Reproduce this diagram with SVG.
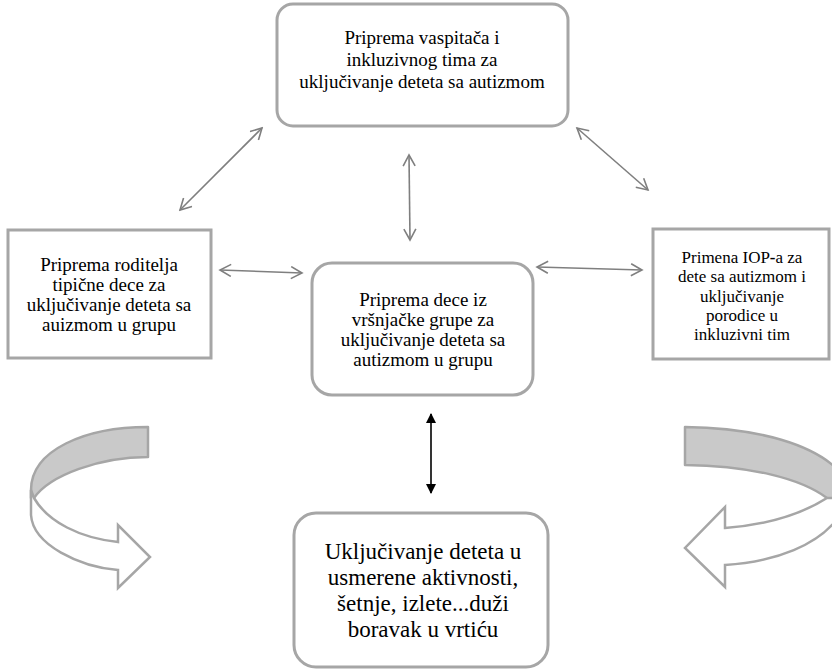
<svg xmlns="http://www.w3.org/2000/svg" width="832" height="671" viewBox="0 0 832 671">
<defs>
<style>
.box{fill:#fff;stroke:#a6a6a6;stroke-width:3}
.t{font-family:"Liberation Serif","Times New Roman",serif;fill:#000;text-anchor:middle}
.con{stroke:#7f7f7f;stroke-width:1.6;fill:none;marker-start:url(#open);marker-end:url(#open)}
.blk{stroke:#000;stroke-width:1.6;fill:none;marker-start:url(#solid);marker-end:url(#solid)}
.band{fill:#c9c9c9;stroke:#a6a6a6;stroke-width:2.5;stroke-linejoin:round}
.front{fill:#fff;stroke:#a6a6a6;stroke-width:2.5;stroke-linejoin:miter}
</style>
<marker id="open" viewBox="0 0 14 14" markerWidth="14" markerHeight="14" refX="12" refY="7" orient="auto-start-reverse" markerUnits="userSpaceOnUse">
<path d="M1,1 L12,7 L1,13" fill="none" stroke="#7f7f7f" stroke-width="1.6"/>
</marker>
<marker id="solid" viewBox="0 0 10 10" markerWidth="10" markerHeight="10" refX="9" refY="5" orient="auto-start-reverse" markerUnits="userSpaceOnUse">
<path d="M0,0 L10,5 L0,10 Z" fill="#000"/>
</marker>
</defs>
<rect width="832" height="671" fill="#fff"/>

<g id="connectors">
<line class="con" x1="262" y1="128" x2="180" y2="210"/>
<line class="con" x1="409" y1="155" x2="410" y2="240"/>
<line class="con" x1="577" y1="128" x2="648" y2="190"/>
<line class="con" x1="220" y1="270" x2="302" y2="273"/>
<line class="con" x1="537" y1="267" x2="642" y2="270"/>
<line class="blk" x1="431" y1="414" x2="431" y2="493"/>
</g>

<g id="curved-left">
<path class="band" d="M148,427 C85,427 31,450 31,490 L31,498 L34,498 C50,475 100,457 148,457 Z"/>
<path class="front" d="M31,490 L31,515 C33,545 80,567 118,570 L118,588 L150,557 L118,525 L118,542 C80,538 48,522 34,498 Z"/>
</g>
<g id="curved-right">
<path class="band" d="M685,427 C760,428 815,445 840,472 L840,500 L827,498 C800,478 750,466 685,465 Z"/>
<path class="front" d="M827,498 C800,515 765,525 725,528 L725,507 L685,548 L725,587 L725,565 C775,562 820,545 840,515 L840,498 Z"/>
</g>

<g id="node-top">
<rect class="box" x="277" y="4" width="291" height="122" rx="16"/>
<text class="t" font-size="19" x="422" y="44">Priprema vaspitača i</text>
<text class="t" font-size="19" x="422" y="66">inkluzivnog tima za</text>
<text class="t" font-size="19" x="422" y="88">uključivanje deteta sa autizmom</text>
</g>

<g id="node-left">
<rect class="box" x="8" y="230" width="203" height="128"/>
<text class="t" font-size="19" x="109" y="271">Priprema roditelja</text>
<text class="t" font-size="19" x="109" y="291">tipične dece za</text>
<text class="t" font-size="19" x="109" y="311">uključivanje deteta sa</text>
<text class="t" font-size="19" x="109" y="331">auizmom u grupu</text>
</g>

<g id="node-center">
<rect class="box" x="312" y="263" width="221" height="132" rx="20"/>
<text class="t" font-size="19" x="423" y="306">Priprema dece iz</text>
<text class="t" font-size="19" x="423" y="326">vršnjačke grupe za</text>
<text class="t" font-size="19" x="423" y="346">uključivanje deteta sa</text>
<text class="t" font-size="19" x="423" y="366">autizmom u grupu</text>
</g>

<g id="node-right">
<rect class="box" x="653" y="229" width="176" height="130"/>
<text class="t" font-size="17" x="742" y="263">Primena IOP<tspan font-weight="bold">-</tspan>a za</text>
<text class="t" font-size="17" x="742" y="282">dete sa autizmom i</text>
<text class="t" font-size="17" x="742" y="302">uključivanje</text>
<text class="t" font-size="17" x="742" y="321">porodice u</text>
<text class="t" font-size="17" x="742" y="340">inkluzivni tim</text>
</g>

<g id="node-bottom">
<rect class="box" x="294" y="513" width="254" height="154" rx="22"/>
<text class="t" font-size="23" x="423" y="559">Uključivanje deteta u</text>
<text class="t" font-size="23" x="423" y="585">usmerene aktivnosti,</text>
<text class="t" font-size="23" x="423" y="611">šetnje, izlete...duži</text>
<text class="t" font-size="23" x="423" y="637">boravak u vrtiću</text>
</g>
</svg>
